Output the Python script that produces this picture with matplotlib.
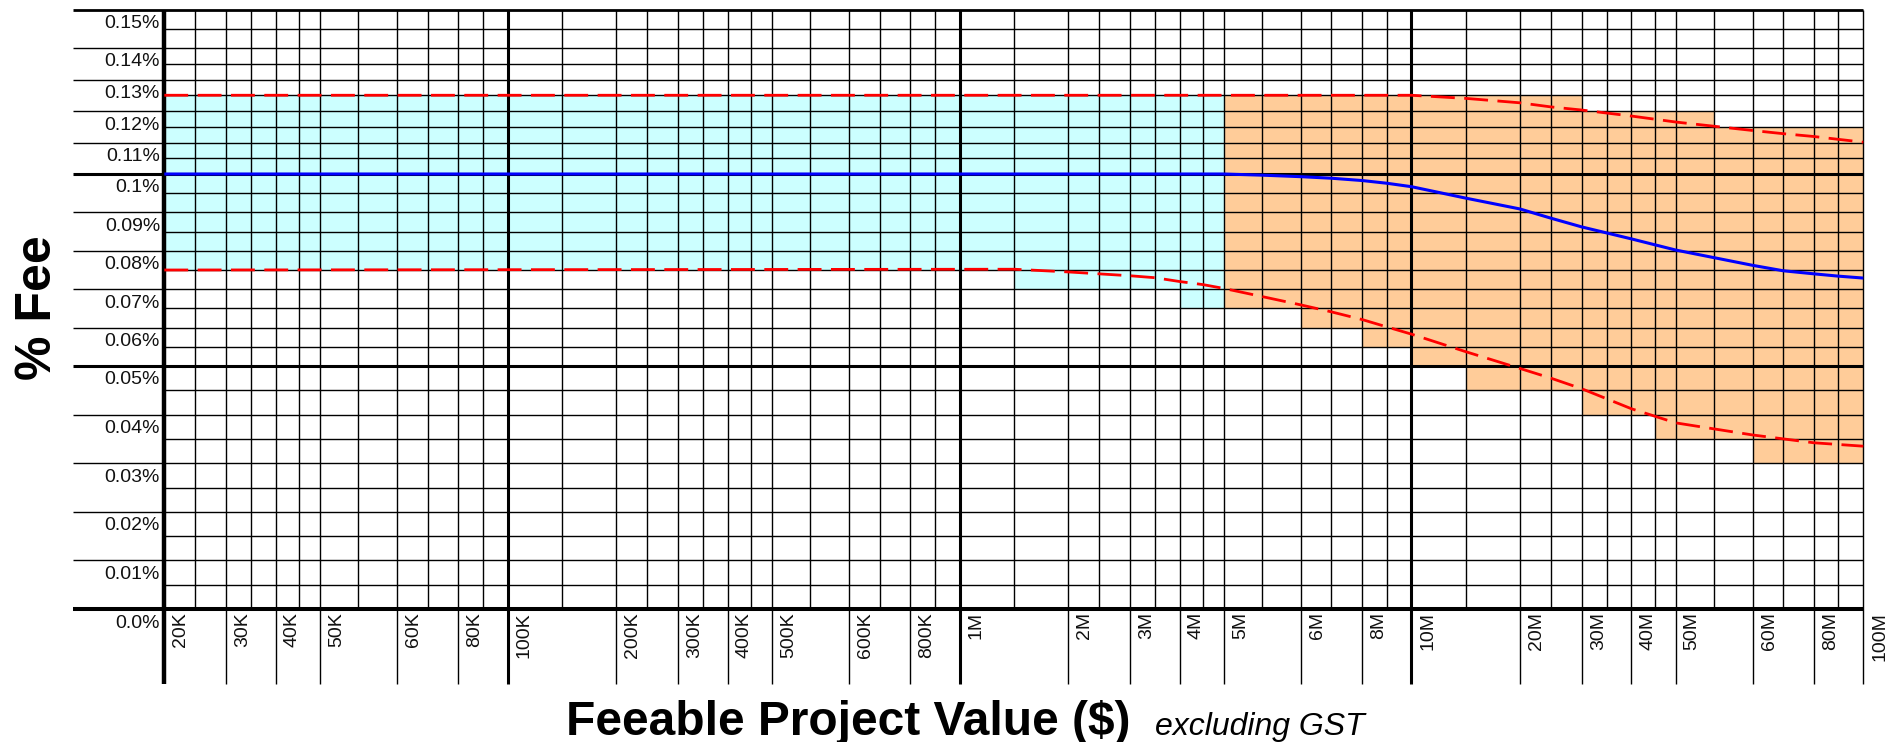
import numpy as np
import matplotlib
matplotlib.use("Agg")
import matplotlib.pyplot as plt
from matplotlib import transforms

plt.rcParams['font.family'] = ['Liberation Sans', 'DejaVu Sans']

# ---------------- data ----------------
# labelled x ticks (feeable project value, $)
X_TICKS = [2e4, 3e4, 4e4, 5e4, 6e4, 8e4,
           1e5, 2e5, 3e5, 4e5, 5e5, 6e5, 8e5,
           1e6, 2e6, 3e6, 4e6, 5e6, 6e6, 8e6,
           1e7, 2e7, 3e7, 4e7, 5e7, 6e7, 8e7, 1e8]
X_LABELS = ['20K', '30K', '40K', '50K', '60K', '80K',
            '100K', '200K', '300K', '400K', '500K', '600K', '800K',
            '1M', '2M', '3M', '4M', '5M', '6M', '8M',
            '10M', '20M', '30M', '40M', '50M', '60M', '80M', '100M']
# unlabelled vertical grid values
X_MINOR = [2.5e4, 3.5e4, 4.5e4, 5.5e4, 7e4, 9e4,
           1.5e5, 2.5e5, 3.5e5, 4.5e5, 5.5e5, 7e5, 9e5,
           1.5e6, 2.5e6, 3.5e6, 4.5e6, 5.5e6, 7e6, 9e6,
           1.5e7, 2.5e7, 3.5e7, 4.5e7, 5.5e7, 7e7, 9e7]
X_THICK = [1e5, 1e6, 1e7]

# y ticks (% fee)
Y_TICKS = [0.00, 0.01, 0.02, 0.03, 0.04, 0.05, 0.06, 0.07, 0.08,
           0.09, 0.10, 0.11, 0.12, 0.13, 0.14, 0.15]
Y_LABELS = ['0.0%', '0.01%', '0.02%', '0.03%', '0.04%', '0.05%', '0.06%',
            '0.07%', '0.08%', '0.09%', '0.1%', '0.11%', '0.12%', '0.13%',
            '0.14%', '0.15%']
Y_MINOR = [0.005, 0.015, 0.025, 0.035, 0.045, 0.055, 0.065, 0.075, 0.085,
           0.095, 0.105, 0.115, 0.125, 0.135, 0.145]

# median fee curve (blue)
BLUE_X = [2e4, 5e6, 5.5e6, 6e6, 7e6, 8e6, 9e6, 1e7, 1.5e7, 2e7, 2.5e7,
          3e7, 4e7, 5e7, 6e7, 7e7, 8e7, 9e7, 1e8]
BLUE_Y = [0.100, 0.100, 0.0997, 0.0993, 0.0989, 0.0983, 0.0976, 0.0967,
          0.0937, 0.0909, 0.0885, 0.0862, 0.0831, 0.0802, 0.0762, 0.0748,
          0.0740, 0.0734, 0.0729]

# upper bound (red dashed)
UP_X = [2e4, 1e7, 1.5e7, 2e7, 2.5e7, 3e7, 4e7, 5e7, 6e7, 7e7, 8e7, 9e7, 1e8]
UP_Y = [0.125, 0.125, 0.1240, 0.1226, 0.1213, 0.1203, 0.1184, 0.1165,
        0.1138, 0.1128, 0.1119, 0.1110, 0.1101]

# lower bound (red dashed)
LO_X = [2e4, 1.5e6, 2e6, 2.5e6, 3e6, 3.5e6, 4e6, 4.5e6, 5e6, 5.5e6, 6e6,
        7e6, 8e6, 9e6, 1e7, 1.5e7, 2e7, 2.5e7, 3e7, 4e7, 5e7, 6e7, 8e7, 1e8]
LO_Y = [0.075, 0.0752, 0.0745, 0.0740, 0.0735, 0.0730, 0.0720, 0.0712,
        0.0702, 0.0681, 0.0659, 0.0641, 0.0621, 0.0602, 0.0583, 0.0537,
        0.0495, 0.0475, 0.0453, 0.0412, 0.0383, 0.0358, 0.0342, 0.0335]

# shaded bands (step edges)
CYAN_X = [2e4, 1.5e6, 4e6, 5e6]
CYAN_LO = [0.075, 0.070, 0.065, 0.065]
CYAN_HI = [0.125, 0.125, 0.125, 0.125]

ORANGE_X = [5e6, 6e6, 8e6, 1e7, 1.5e7, 3e7, 4.5e7, 5.5e7, 6e7, 1e8]
ORANGE_LO = [0.065, 0.060, 0.055, 0.050, 0.045, 0.040, 0.035, 0.035, 0.030, 0.030]
ORANGE_HI = [0.125, 0.125, 0.125, 0.125, 0.125, 0.120, 0.120, 0.115, 0.115, 0.115]

# ---------------- custom axis scales (chart paper is hand-ruled) ----------------
MANT = np.array([1, 1.5, 2, 2.5, 3, 3.5, 4, 4.5, 5, 5.5, 6, 7, 8, 9, 10])
FRAC = np.array([0, 0.1209, 0.24, 0.3086, 0.3775, 0.4317, 0.4869, 0.5384,
                 0.5848, 0.6688, 0.7558, 0.8228, 0.8907, 0.9450, 1.0])


def x_fwd(v):
    v = np.asarray(v, dtype=float)
    with np.errstate(all='ignore'):
        safe = np.where(v > 0, v, 1e-300)
        lg = np.log10(safe)
        d = np.floor(lg + 1e-12)
        m = safe / 10.0 ** d
    return d + np.interp(m, MANT, FRAC)


def x_inv(u):
    u = np.asarray(u, dtype=float)
    d = np.floor(u)
    f = u - d
    return np.interp(f, FRAC, MANT) * 10.0 ** d


YV = np.array([0.0, 0.05, 0.10, 0.14, 0.15])
YU = np.array([0.0, 243.0, 435.0, 561.0, 599.0])


def _pw(x, xs, ys):
    x = np.asarray(x, dtype=float)
    y = np.interp(x, xs, ys)
    lo = x < xs[0]
    hi = x > xs[-1]
    s0 = (ys[1] - ys[0]) / (xs[1] - xs[0])
    s1 = (ys[-1] - ys[-2]) / (xs[-1] - xs[-2])
    y = np.where(lo, ys[0] + (x - xs[0]) * s0, y)
    y = np.where(hi, ys[-1] + (x - xs[-1]) * s1, y)
    return y


def y_fwd(v):
    return _pw(v, YV, YU)


def y_inv(u):
    return _pw(u, YU, YV)


# ---------------- figure ----------------
W, H = 1896, 742
fig = plt.figure(figsize=(W / 100, H / 100), dpi=100)
L, R, T, B = 164.3, 1863.3, 10.0, 609.0
ax = fig.add_axes([L / W, 1 - B / H, (R - L) / W, (B - T) / H])
ax.set_xscale('function', functions=(x_fwd, x_inv))
ax.set_yscale('function', functions=(y_fwd, y_inv))
ax.set_xlim(2e4, 1e8)
ax.set_ylim(0, 0.15)
for s in ax.spines.values():
    s.set_visible(False)
ax.tick_params(which='both', length=0, labelbottom=False, labelleft=False)
ax.set_xticks([])
ax.set_yticks([])
ax.set_xticks([], minor=True)
ax.set_yticks([], minor=True)

# shaded bands
ax.fill_between(CYAN_X, CYAN_LO, CYAN_HI, step='post', color='#CCFFFF',
                linewidth=0, zorder=1)
ax.fill_between(ORANGE_X, ORANGE_LO, ORANGE_HI, step='post', color='#FFCC99',
                linewidth=0, zorder=1)

thin = 1.0
ytr = ax.get_yaxis_transform()
xtr = ax.get_xaxis_transform()
left_ext = (73.0 - L) / (R - L)
down_ext = -(684.0 - B) / (B - T)

# horizontal grid
for v in Y_MINOR:
    ax.plot([0, 1], [v, v], transform=ytr, color='black', lw=thin,
            solid_capstyle='butt', zorder=2, clip_on=False)
for v in Y_TICKS:
    if v == 0.0:
        lw = 2.9
    elif v in (0.05, 0.10):
        lw = 2.2
    elif v == 0.15:
        lw = 2.0
    else:
        lw = thin
    ax.plot([left_ext, 1], [v, v], transform=ytr, color='black', lw=lw,
            solid_capstyle='butt', zorder=2.2, clip_on=False)

# vertical grid
for v in X_MINOR:
    ax.plot([v, v], [0, 1], transform=xtr, color='black', lw=thin,
            solid_capstyle='butt', zorder=2, clip_on=False)
for v in X_TICKS:
    if v == 2e4:
        lw = 3.2
    elif v in X_THICK:
        lw = 2.2
    else:
        lw = thin
    ax.plot([v, v], [down_ext, 1], transform=xtr, color='black', lw=lw,
            solid_capstyle='butt', zorder=2.3, clip_on=False)

# curves
ax.plot(UP_X, UP_Y, color='#FF0000', lw=2.0, linestyle=(0, (8.6, 3.4)),
        zorder=4, clip_on=False)
ax.plot(LO_X, LO_Y, color='#FF0000', lw=2.0, linestyle=(0, (8.6, 3.4)),
        zorder=4, clip_on=False)
ax.plot(BLUE_X, BLUE_Y, color='#0000FF', lw=2.2, zorder=4.5, clip_on=False,
        solid_capstyle='butt')

# y tick labels
ylab_tr = transforms.offset_copy(ytr, fig=fig, x=0, y=-14, units='dots')
for v, t in zip(Y_TICKS, Y_LABELS):
    ax.text((160.0 - L) / (R - L), v, t, transform=ylab_tr, ha='right',
            va='center', fontsize=14, color='#111111')

# x tick labels
xlab_tr = transforms.offset_copy(xtr, fig=fig, x=16.5, y=-3, units='dots')
for v, t in zip(X_TICKS, X_LABELS):
    ax.text(v, 0, t, transform=xlab_tr, rotation=90, ha='center', va='top',
            fontsize=14, color='#111111')

# axis titles
fig.text(38.0 / W, 1 - 307.5 / H, '% Fee', rotation=90, fontsize=36,
         fontweight='bold', ha='center', va='center')
fig.text(566.0 / W, 7.0 / H, 'Feeable Project Value ($)', fontsize=34.5,
         fontweight='bold', ha='left', va='baseline')
fig.text(1155.0 / W, 7.0 / H, 'excluding GST', fontsize=23, fontstyle='italic',
         ha='left', va='baseline')

fig.savefig('out.png', dpi=100, facecolor='white')
